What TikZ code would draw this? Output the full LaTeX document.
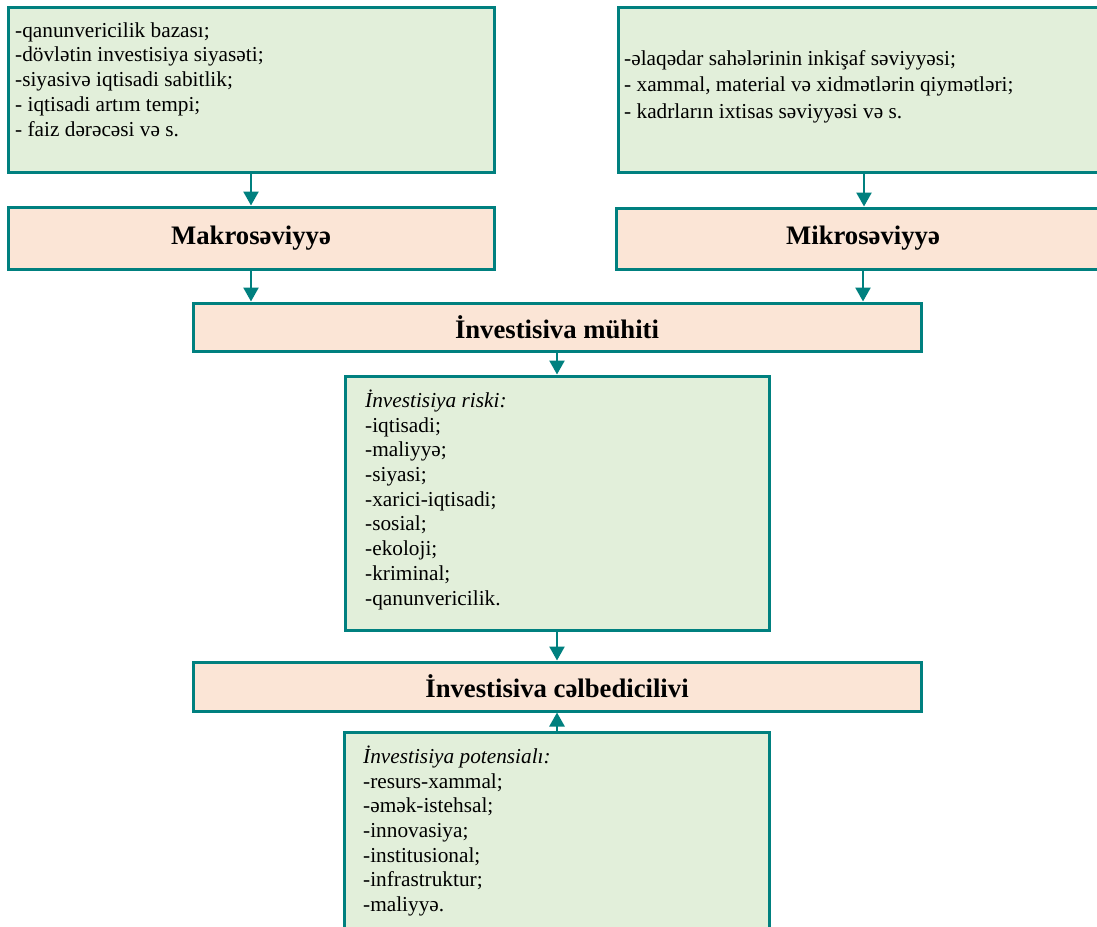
\documentclass[tikz,border=0pt]{standalone}
\usepackage{fontspec}
\setmainfont{Liberation Serif}
\usetikzlibrary{arrows.meta}

\definecolor{edgeteal}{HTML}{00807F}
\definecolor{boxgreen}{HTML}{E2EFDA}
\definecolor{boxpeach}{HTML}{FBE5D6}

\newcommand\bodysize{\fontsize{21.3}{24.7}\selectfont}
\newcommand\widesize{\fontsize{21.3}{26.5}\selectfont}
\newcommand\headsize{\fontsize{26.7}{30}\selectfont\bfseries}

\tikzset{
  box/.style={draw=edgeteal, line width=3pt, rectangle, inner sep=0pt},
  listbox/.style={box, fill=boxgreen},
  headbox/.style={box, fill=boxpeach, font=\headsize},
  flow/.style={draw=edgeteal, line width=2.5pt, -{Triangle[width=15pt,length=14pt]}},
  listtext/.style={anchor=north west, inner sep=0pt, align=left, font=\bodysize},
}

\begin{document}
\begin{tikzpicture}[x=1pt,y=-1pt]
  \clip (0,0) rectangle (1097,926);
  \fill[white] (0,0) rectangle (1097,926);

  % factor boxes at the top
  \node[listbox, minimum width=486pt, minimum height=165pt] (macroF) at (251,89.5) {};
  \node[listbox, minimum width=492pt, minimum height=165pt] (microF) at (864,89.5) {};

  % level boxes
  \node[headbox, minimum width=486pt, minimum height=62pt] (makro) at (251,238) {Makrosəviyyə};
  \node[headbox, minimum width=494pt, minimum height=61pt] (mikro) at (863,238.5) {Mikrosəviyyə};

  % environment and attractiveness
  \node[headbox, minimum width=728pt, minimum height=48pt] (muhit) at (557,327) {İnvestisiva mühiti};
  \node[listbox, minimum width=424pt, minimum height=254pt] (risk) at (557,503) {};
  \node[headbox, minimum width=728pt, minimum height=49pt] (celb) at (557,686.5) {İnvestisiva cəlbedicilivi};
  \node[listbox, minimum width=425pt, minimum height=228pt] (pot) at (557,846) {};

  % list contents
  \node[listtext] (macroT) at (15,37-17.29) {\strut-qanunvericilik bazası;\\
    -dövlətin investisiya siyasəti;\\
    -siyasivə iqtisadi sabitlik;\\
    - iqtisadi artım tempi;\\
    - faiz dərəcəsi və s.};
  \node[listtext, font=\widesize] (microT) at (624,65-18.55) {\strut-əlaqədar sahələrinin inkişaf səviyyəsi;\\
    - xammal, material və xidmətlərin qiymətləri;\\
    - kadrların ixtisas səviyyəsi və s.};
  \node[listtext] (riskT) at (365,407-17.29) {\strut\textit{İnvestisiya riski:}\\
    -iqtisadi;\\
    -maliyyə;\\
    -siyasi;\\
    -xarici-iqtisadi;\\
    -sosial;\\
    -ekoloji;\\
    -kriminal;\\
    -qanunvericilik.};
  \node[listtext] (potT) at (363,763-17.29) {\strut\textit{İnvestisiya potensialı:}\\
    -resurs-xammal;\\
    -əmək-istehsal;\\
    -innovasiya;\\
    -institusional;\\
    -infrastruktur;\\
    -maliyyə.};

  % connectors
  \draw[flow] (macroF.south) -- (makro.north);
  \draw[flow] (microF.south) -- (microF.south |- mikro.north);
  \draw[flow] (makro.south) -- (makro.south |- muhit.north);
  \draw[flow] (mikro.south) -- (mikro.south |- muhit.north);
  \draw[flow] (muhit.south) -- (risk.north);
  \draw[flow] (risk.south) -- (celb.north);
  \draw[flow] (pot.north) -- (celb.south);
\end{tikzpicture}
\end{document}
